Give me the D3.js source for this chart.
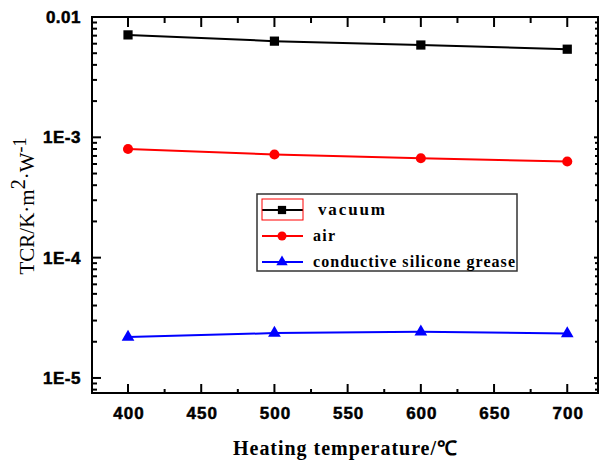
<!DOCTYPE html>
<html><head><meta charset="utf-8">
<script src="https://cdn.jsdelivr.net/npm/d3@7"></script>
<style>body{margin:0;background:#fff}</style>
</head><body>
<svg id="c" width="601" height="464"></svg>
<script>
const temps = [400, 500, 600, 700];
const vacuum = [7.1e-3, 6.3e-3, 5.85e-3, 5.4e-3];
const air = [8.0e-4, 7.2e-4, 6.7e-4, 6.3e-4];
const grease = [2.19e-5, 2.36e-5, 2.42e-5, 2.34e-5];
const seriesNames = ["vacuum", "air", "conductive silicone grease"];
const xTicks = [400, 450, 500, 550, 600, 650, 700];
const yTicks = [1e-5, 1e-4, 1e-3, 1e-2];
const yTickLabels = ["1E-5", "1E-4", "1E-3", "0.01"];

const svg = d3.select("#c");
const L = 92, R = 598, T = 17, B = 393;
const x = d3.scaleLinear().domain([375.4, 721]).range([L, R]);
const y = d3.scaleLog().domain([7.5e-6, 1e-2]).range([B, T]);

const xMinor = d3.range(425, 721, 50);
const yMinor = [];
for (let e = -6; e <= -3; e++) for (let k = 2; k <= 9; k++) { const v = k * Math.pow(10, e); if (v >= 7.5e-6 && v < 1e-2) yMinor.push(v); }

const g = svg.append("g");
function tickLines(vals, len, axis, side) {
  g.selectAll(null).data(vals).enter().append("line")
    .attr("stroke", "#000").attr("stroke-width", 2)
    .each(function(d) {
      const s = d3.select(this);
      if (axis === "x") {
        const px = x(d);
        const y0 = side === "bottom" ? B : T;
        const dir = side === "bottom" ? -1 : 1;
        s.attr("x1", px).attr("x2", px).attr("y1", y0).attr("y2", y0 + dir * len);
      } else {
        const py = y(d);
        const x0 = side === "left" ? L : R;
        const dir = side === "left" ? 1 : -1;
        s.attr("y1", py).attr("y2", py).attr("x1", x0).attr("x2", x0 + dir * len);
      }
    });
}
tickLines(xTicks, 9, "x", "bottom");
tickLines(xMinor, 4, "x", "bottom");
tickLines(xTicks, 10, "x", "top");
tickLines(xMinor, 6, "x", "top");
tickLines(yTicks, 9, "y", "left");
tickLines(yMinor, 5, "y", "left");
tickLines(yTicks, 4, "y", "right");
tickLines(yMinor, 3, "y", "right");

g.append("rect").attr("x", L).attr("y", T).attr("width", R - L).attr("height", B - T)
  .attr("fill", "none").attr("stroke", "#000").attr("stroke-width", 2);

g.selectAll(null).data(xTicks).enter().append("text")
  .attr("x", d => x(d) + 1).attr("y", 419).attr("text-anchor", "middle")
  .attr("font-family", "Liberation Sans, Arial, sans-serif").attr("font-weight", "bold")
  .attr("font-size", 17).attr("letter-spacing", 1)
  .attr("stroke", "#000").attr("stroke-width", 0.5).text(d => d);
g.selectAll(null).data(yTicks).enter().append("text")
  .attr("x", 81).attr("y", d => y(d) + 6).attr("text-anchor", "end")
  .attr("font-family", "Liberation Sans, Arial, sans-serif").attr("font-weight", "bold")
  .attr("font-size", 17).attr("letter-spacing", 0.5)
  .attr("stroke", "#000").attr("stroke-width", 0.5).text((d, i) => yTickLabels[i]);

g.append("text").attr("x", 345).attr("y", 455).attr("text-anchor", "middle")
  .attr("font-family", "Liberation Serif, Times New Roman, serif").attr("font-weight", "bold")
  .attr("font-size", 20).attr("textLength", 224).attr("lengthAdjust", "spacing")
  .text("Heating temperature/℃");
const yt = g.append("text").attr("transform", "translate(34,206) rotate(-90)")
  .attr("text-anchor", "middle")
  .attr("font-family", "Liberation Serif, Times New Roman, serif").attr("font-size", 21);
yt.append("tspan").text("TCR/K·m");
yt.append("tspan").attr("baseline-shift", "45%").attr("font-size", 20).text("2");
yt.append("tspan").text("·W");
yt.append("tspan").attr("baseline-shift", "45%").attr("font-size", 18).text("-1");

const series = [
  {vals: vacuum, color: "#000", shape: d3.symbolSquare, size: 85},
  {vals: air, color: "#ff0000", shape: d3.symbolCircle, size: 80},
  {vals: grease, color: "#0000ff", shape: d3.symbolTriangle, size: 70}
];
const line = d3.line().x(d => x(d[0])).y(d => y(d[1]));
series.forEach(s => {
  const pts = temps.map((t, i) => [t, s.vals[i]]);
  g.append("path").attr("d", line(pts)).attr("fill", "none").attr("stroke", s.color).attr("stroke-width", 2);
  g.selectAll(null).data(pts).enter().append("path")
    .attr("d", d3.symbol().type(s.shape).size(s.size))
    .attr("transform", d => `translate(${x(d[0])},${y(d[1])})`)
    .attr("fill", s.color);
});

const lg = g.append("g");
lg.append("rect").attr("x", 257).attr("y", 194).attr("width", 260).attr("height", 77)
  .attr("fill", "#fff").attr("stroke", "#333").attr("stroke-width", 1.5);
const rowsY = [210, 236, 262];
const textX = [318, 313, 313];
const textLen = [67, 22, 202];
const fsz = [17, 16, 16];
series.forEach((s, i) => {
  const yy = rowsY[i];
  lg.append("line").attr("x1", 262).attr("x2", 303).attr("y1", yy).attr("y2", yy)
    .attr("stroke", s.color).attr("stroke-width", 2);
  lg.append("path").attr("d", d3.symbol().type(s.shape).size(s.size * 0.8))
    .attr("transform", `translate(282,${yy})`).attr("fill", s.color);
  lg.append("text").attr("x", textX[i]).attr("y", yy + 5)
    .attr("font-family", "Liberation Serif, Times New Roman, serif").attr("font-weight", "bold")
    .attr("font-size", fsz[i]).attr("textLength", textLen[i]).attr("lengthAdjust", "spacing")
    .text(seriesNames[i]);
});
lg.append("rect").attr("x", 262).attr("y", 199).attr("width", 41).attr("height", 21)
  .attr("fill", "none").attr("stroke", "#ff0000").attr("stroke-width", 1);
</script>
</body></html>
